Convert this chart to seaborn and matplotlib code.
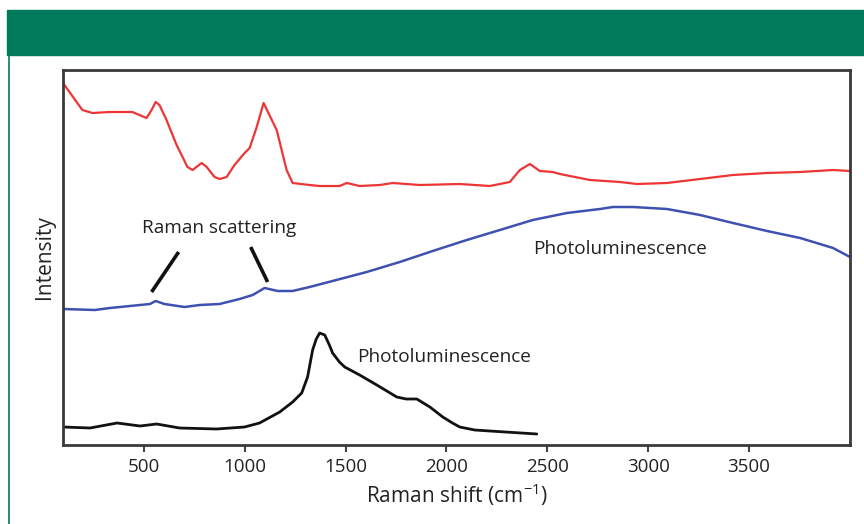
import numpy as np
import pandas as pd
import matplotlib
matplotlib.use("Agg")
import matplotlib.pyplot as plt
from matplotlib.patches import Rectangle
from matplotlib.lines import Line2D
import seaborn as sns

sns.set_style("white")
plt.rcParams['font.family'] = ['Open Sans', 'DejaVu Sans']
plt.rcParams['mathtext.fontset'] = 'custom'
plt.rcParams['mathtext.rm'] = 'Open Sans'

# spectra (Raman shift in cm-1, intensity in arbitrary units)
red_shift = [100, 196, 246, 330, 444, 479, 514, 539, 559, 578,
             613, 663, 717, 742, 787, 812, 851, 876, 911, 950,
             1000, 1025, 1060, 1094, 1159, 1208, 1238, 1322, 1372, 1471,
             1506, 1570, 1670, 1734, 1868, 2066, 2215, 2314, 2364, 2414,
             2463, 2528, 2562, 2637, 2711, 2860, 2944, 3093, 3257, 3420,
             3589, 3753, 3916, 4000]
red_int = [362, 335, 332, 333, 333, 330, 327, 335, 343, 340,
           325, 300, 278, 275, 282, 278, 268, 266, 268, 280,
           292, 297, 318, 342, 315, 275, 262, 260, 259, 259,
           262, 259, 260, 262, 260, 261, 259, 263, 275, 281,
           274, 273, 271, 268, 265, 263, 261, 262, 266, 270,
           272, 273, 275, 274]

blue_shift = [100, 258, 333, 482, 531, 559, 603, 702, 777, 876,
              975, 1040, 1099, 1164, 1238, 1322, 1436, 1605, 1769, 1932,
              2101, 2265, 2428, 2597, 2761, 2825, 2924, 3009, 3093, 3257,
              3420, 3589, 3753, 3916, 4000]
blue_int = [136, 135, 137, 140, 141, 144, 141, 138, 140, 141,
            146, 150, 157, 154, 154, 158, 164, 173, 183, 194,
            205, 215, 225, 232, 236, 238, 238, 237, 236, 230,
            222, 214, 207, 197, 188]

black_shift = [100, 234, 368, 482, 564, 678, 861, 1000, 1074, 1174,
               1238, 1283, 1312, 1337, 1355, 1372, 1397, 1420, 1436, 1470,
               1496, 1570, 1655, 1754, 1800, 1853, 1918, 1982, 2030, 2066,
               2140, 2215, 2448]
black_int = [18, 17, 22, 19, 21, 17, 16, 18, 22, 33,
             43, 52, 68, 95, 106, 112, 110, 100, 92, 83,
             78, 70, 60, 48, 46, 46, 38, 28, 22, 18,
             15, 14, 11]

xticks = [500, 1000, 1500, 2000, 2500, 3000, 3500]

# pointer lines for the "Raman scattering" note
pointer1_x = [673, 539]
pointer1_y = [193, 153]
pointer2_x = [1030, 1114]
pointer2_y = [198, 163]

fig = plt.figure(figsize=(8.64, 5.24), dpi=100)
ax = fig.add_axes([63/864, 1 - 445/524, (850 - 63)/864, (445 - 70)/524])

sns.lineplot(x=red_shift, y=red_int, color='#EE3535', lw=1.6, ax=ax)
sns.lineplot(x=blue_shift, y=blue_int, color='#3F51B0', lw=1.8, ax=ax)
sns.lineplot(x=black_shift, y=black_int, color='#111111', lw=2.0, ax=ax)

ax.plot(pointer1_x, pointer1_y, color='#111111', lw=2.6, solid_capstyle='butt')
ax.plot(pointer2_x, pointer2_y, color='#111111', lw=2.6, solid_capstyle='butt')

ax.text(876, 212, 'Raman scattering', ha='center', va='baseline', fontsize=13.7, color='#222222')
ax.text(2428, 191, 'Photoluminescence', ha='left', va='baseline', fontsize=13.7, color='#222222')
ax.text(1560, 83, 'Photoluminescence', ha='left', va='baseline', fontsize=13.7, color='#222222')

ax.set_xlim(100, 4000)
ax.set_ylim(0, 375)
ax.set_xticks(xticks)
ax.set_xticklabels([str(t) for t in xticks], fontsize=13.5, color='#222222')
ax.set_yticks([])
ax.tick_params(axis='x', direction='out', length=5, width=1.5, color='#444444', pad=4, bottom=True)
for s in ax.spines.values():
    s.set_color('#3a3a3a')
    s.set_linewidth(2)

ax.set_xlabel('Raman shift (cm$^{-1}$)', fontsize=15, color='#222222', labelpad=4)
ax.set_ylabel('Intensity', fontsize=15, color='#222222', labelpad=6)

# green header band and thin side rule
fig.patches.append(Rectangle((7/864, 1 - 55/524), (864 - 7)/864, 45/524,
                             transform=fig.transFigure, color='#007C5C', zorder=0))
fig.lines.append(Line2D([8.5/864, 8.5/864], [0, 1 - 55/524],
                        transform=fig.transFigure, color='#007C5C', lw=1.2))

fig.savefig('out.png', dpi=100)
